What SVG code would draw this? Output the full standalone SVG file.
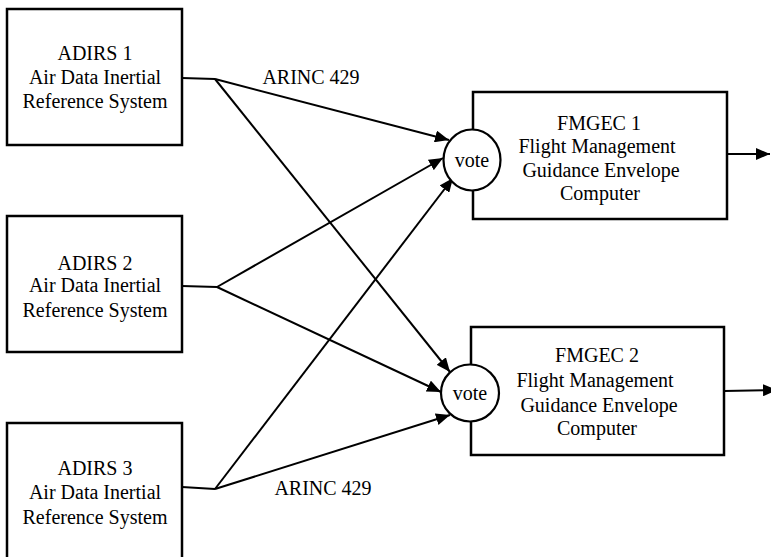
<svg xmlns="http://www.w3.org/2000/svg" width="771" height="557" viewBox="0 0 771 557">
<defs>
<marker id="ah" markerUnits="userSpaceOnUse" markerWidth="14" markerHeight="12" refX="14" refY="6" orient="auto">
<path d="M0,0 L14,6 L0,12 z" fill="#000"/>
</marker>
<style>
.box{fill:#fff;stroke:#000;stroke-width:2.5}
.vote{fill:#fff;stroke:#000;stroke-width:2.2}
.t{font-family:"Liberation Serif","Times New Roman",serif;font-size:20px;fill:#000;text-anchor:middle}
.c{fill:none;stroke:#000;stroke-width:2}
.a{fill:none;stroke:#000;stroke-width:2;marker-end:url(#ah)}
</style>
</defs>
<rect width="771" height="557" fill="#fff"/>
<g id="adirs1">
<rect class="box" x="7" y="9" width="175" height="136"/>
<text class="t" x="95" y="60">ADIRS 1</text>
<text class="t" x="95" y="84">Air Data Inertial</text>
<text class="t" x="95" y="108">Reference System</text>
</g>
<g id="adirs2">
<rect class="box" x="7" y="216" width="175" height="136"/>
<text class="t" x="95" y="270">ADIRS 2</text>
<text class="t" x="95" y="292">Air Data Inertial</text>
<text class="t" x="95" y="317">Reference System</text>
</g>
<g id="adirs3">
<rect class="box" x="7" y="423" width="175" height="150"/>
<text class="t" x="95" y="475">ADIRS 3</text>
<text class="t" x="95" y="499">Air Data Inertial</text>
<text class="t" x="95" y="524">Reference System</text>
</g>
<g id="connectors">
<polyline class="c" points="182,78 215,79"/>
<polyline class="c" points="182,286 217,287"/>
<polyline class="c" points="182,487 215,489"/>
<line class="a" x1="215" y1="79" x2="449" y2="140"/>
<line class="a" x1="215" y1="79" x2="450" y2="372"/>
<line class="a" x1="217" y1="287" x2="443" y2="158"/>
<line class="a" x1="217" y1="287" x2="441" y2="392"/>
<line class="a" x1="215" y1="489" x2="453" y2="178"/>
<line class="a" x1="215" y1="489" x2="450" y2="415"/>
<line class="a" x1="727" y1="154" x2="770" y2="154"/>
<line class="a" x1="724" y1="391" x2="777" y2="390"/>
</g>
<g id="fmgec1">
<rect class="box" x="473" y="92" width="254" height="127"/>
<ellipse class="vote" cx="472" cy="160" rx="28.5" ry="30.5"/>
<text class="t" x="472" y="167">vote</text>
<text class="t" x="599" y="130">FMGEC 1</text>
<text class="t" x="597" y="153">Flight Management</text>
<text class="t" x="601" y="177">Guidance Envelope</text>
<text class="t" x="600" y="200">Computer</text>
</g>
<g id="fmgec2">
<rect class="box" x="471" y="327" width="253" height="128"/>
<ellipse class="vote" cx="470" cy="393" rx="29" ry="28.5"/>
<text class="t" x="470" y="400">vote</text>
<text class="t" x="597" y="362">FMGEC 2</text>
<text class="t" x="595" y="387">Flight Management</text>
<text class="t" x="599" y="412">Guidance Envelope</text>
<text class="t" x="597" y="435">Computer</text>
</g>
<g id="labels">
<text class="t" x="311" y="84">ARINC 429</text>
<text class="t" x="323" y="495">ARINC 429</text>
</g>
</svg>
